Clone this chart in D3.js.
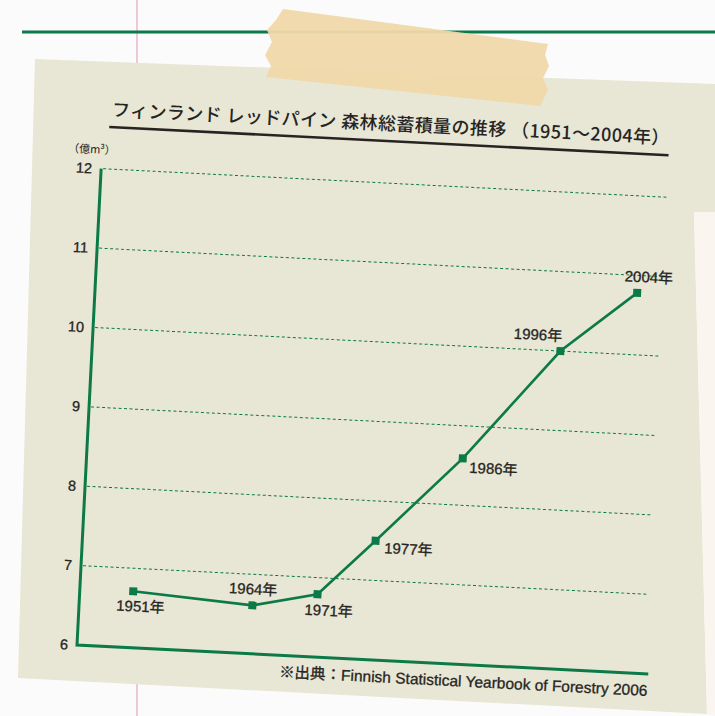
<!DOCTYPE html>
<html>
<head>
<meta charset="utf-8">
<title>フィンランド レッドパイン 森林総蓄積量の推移</title>
<script src="https://cdn.jsdelivr.net/npm/d3@7"></script>
<style>
  body { margin: 0; background: #fbfbfb; }
  svg { display: block; }
</style>
</head>
<body>
<div id="chart"></div>
<script>
// data
const years = [1951, 1964, 1971, 1977, 1986, 1996, 2004];
const stock = [6.71, 6.61, 6.79, 7.50, 8.59, 10.0, 10.78];   // 億m3
const yTicks = [6, 7, 8, 9, 10, 11, 12];
const gridValues = [7, 8, 9, 10, 11, 12];
const titleText = "フィンランド レッドパイン 森林総蓄積量の推移 （1951～2004年）";
const unitText = "（億m³）";
const sourceText = "※出典：Finnish Statistical Yearbook of Forestry 2006";

const W = 715, H = 716;
const green = "#0b7a48";
const ink = "#262422";

const svg = d3.select("#chart").append("svg")
    .attr("width", W).attr("height", H);

// notebook page behind
svg.append("rect").attr("width", W).attr("height", H).attr("fill", "#fbfbfb");
svg.append("line")
    .attr("x1", 137).attr("x2", 137).attr("y1", 0).attr("y2", H)
    .attr("stroke", "#e9bcd3").attr("stroke-width", 1.6);
svg.append("line")
    .attr("x1", 22).attr("x2", W).attr("y1", 32).attr("y2", 32)
    .attr("stroke", green).attr("stroke-width", 3);

// the sheet of paper
svg.append("polygon")
    .attr("points", "35,59 715,84 715,212 694,212 707,714 18,678")
    .attr("fill", "#e8e6d4");
svg.append("polygon")
    .attr("points", "694,212 715,212 715,716 707,714")
    .attr("fill", "#fbf5f0");

// the tape
svg.append("polygon")
    .attr("points", "283,9 548,44 545,55 549,66 543,78 548,90 540,106 266,77 271,66 265,55 272,42 267,30 276,20")
    .attr("fill", "#f0d8a9").attr("opacity", 0.95);

// chart area, tilted like the scan
const w = 572, h = 477;
const g = svg.append("g")
    .attr("transform", "translate(77,645) rotate(2.9) translate(0," + (-h) + ")")
    .attr("font-family", "'Liberation Sans', Arial, 'Noto Sans CJK JP', sans-serif");

const x = d3.scaleLinear().domain([1945.2, 2007.3]).range([0, w]);
const y = d3.scaleLinear().domain([6, 12]).range([h, 0]);

// dashed grid
g.selectAll(".grid")
    .data(gridValues)
    .enter().append("line")
    .attr("class", "grid")
    .attr("x1", 2).attr("x2", 568)
    .attr("y1", d => y(d)).attr("y2", d => y(d))
    .attr("stroke", green).attr("stroke-width", 1)
    .attr("stroke-dasharray", "3,2.5");

// tick labels
const yAxis = d3.axisLeft(y).tickValues(yTicks).tickFormat(d3.format("d"))
    .tickSize(0).tickPadding(9);
const ya = g.append("g").call(yAxis);
ya.select(".domain").remove();
ya.selectAll("text")
    .attr("font-size", "14.5px")
    .attr("fill", ink)
    .attr("stroke", ink).attr("stroke-width", 0.3)
    .attr("font-family", "'Liberation Sans', Arial, sans-serif");

// axis lines
g.append("path")
    .attr("d", d3.line()([[0, y(12)], [0, y(6)], [w, y(6)]]))
    .attr("fill", "none").attr("stroke", green).attr("stroke-width", 3);

// series
const pts = years.map((yr, i) => [x(yr), y(stock[i])]);
g.append("path")
    .attr("d", d3.line()(pts))
    .attr("fill", "none").attr("stroke", green).attr("stroke-width", 2.6);

g.selectAll(".pt")
    .data(pts)
    .enter().append("rect")
    .attr("class", "pt")
    .attr("x", d => d[0] - 4).attr("y", d => d[1] - 4)
    .attr("width", 8).attr("height", 8)
    .attr("fill", green);

// year label placement around each point
const labelPos = {
    1951: { dx: 8, dy: 20, anchor: "middle" },
    1964: { dx: 0, dy: -11, anchor: "middle" },
    1971: { dx: 12, dy: 21, anchor: "middle" },
    1977: { dx: 9, dy: 12, anchor: "start" },
    1986: { dx: 7, dy: 14, anchor: "start" },
    1996: { dx: 1, dy: -10, anchor: "end" },
    2004: { dx: 11, dy: -11, anchor: "middle" }
};
g.selectAll(".lbl")
    .data(years)
    .enter().append("text")
    .attr("class", "lbl")
    .attr("x", (d, i) => pts[i][0] + labelPos[d].dx)
    .attr("y", (d, i) => pts[i][1] + labelPos[d].dy)
    .attr("text-anchor", d => labelPos[d].anchor)
    .attr("font-size", "15px")
    .attr("fill", ink)
    .attr("stroke", ink).attr("stroke-width", 0.3)
    .text(d => d + "年");

// title + rule
g.append("text")
    .attr("x", 8).attr("y", -53)
    .attr("font-family", "'Noto Sans CJK JP', sans-serif")
    .attr("font-size", "18px")
    .attr("font-weight", 500)
    .attr("textLength", 558)
    .attr("lengthAdjust", "spacing")
    .attr("fill", ink)
    .text(titleText);
g.append("line")
    .attr("x1", 6).attr("x2", 566).attr("y1", -42).attr("y2", -42)
    .attr("stroke", ink).attr("stroke-width", 2.6);

// unit
g.append("text")
    .attr("x", -34).attr("y", -15)
    .attr("font-family", "'Noto Sans CJK JP', sans-serif")
    .attr("font-size", "11px")
    .attr("fill", ink)
    .text(unitText);

// source
g.append("text")
    .attr("x", w).attr("y", h + 22)
    .attr("text-anchor", "end")
    .attr("font-size", "15.5px")
    .attr("fill", ink)
    .attr("stroke", ink).attr("stroke-width", 0.3)
    .text(sourceText);
</script>
</body>
</html>
